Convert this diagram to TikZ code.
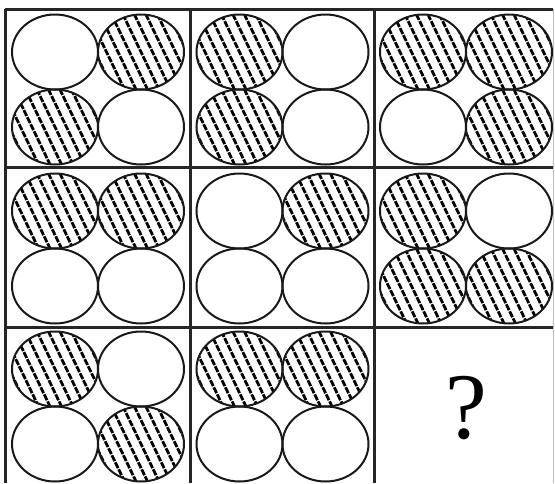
\documentclass[tikz,border=0pt]{standalone}
\usepackage{fontspec}
\newfontfamily\qfont{Liberation Serif}
\begin{document}
\begin{tikzpicture}[x=1pt,y=-1pt,
  gridline/.style={line width=3pt, black!85},
  edgeline/.style={line width=0.8pt, black!25},
  disc/.style={line width=2pt, black!90},
  hatchline/.style={line width=2.8pt, black, dash pattern=on 6.5pt off 1.3pt}]
\useasboundingbox (0,0) rectangle (555,483);
\fill[white] (0,0) rectangle (555,483);
% ellipse: #1 cx, #2 cy, #3 hatched (1) or not (0)
\newcommand\mydisc[3]{%
  \ifnum#3=1
    \begin{scope}
      \clip (#1,#2) ellipse [x radius=43, y radius=37.5];
      \foreach \k in {-7,...,7}{
        \draw[hatchline] ({#1+\k*11.5-25},{#2-52}) -- ({#1+\k*11.5+25},{#2+52});
      }
    \end{scope}
  \fi
  \draw[disc] (#1,#2) ellipse [x radius=43, y radius=37.5];
}
% cell: #1,#2 = left and right centre x; #3,#4 = top and bottom centre y; #5..#8 = TL TR BL BR
\newcommand\mycell[8]{%
  \mydisc{#1}{#3}{#5}\mydisc{#2}{#3}{#6}\mydisc{#1}{#4}{#7}\mydisc{#2}{#4}{#8}}
% row 1
\mycell{55}{141}{52}{127}{0}{1}{1}{0}
\mycell{239.5}{325.5}{52}{127}{1}{0}{1}{0}
\mycell{423}{509}{52}{127}{1}{1}{0}{1}
% row 2
\mycell{55}{141}{211}{286}{1}{1}{0}{0}
\mycell{239.5}{325.5}{211}{286}{0}{1}{0}{0}
\mycell{423}{509}{211}{286}{1}{0}{1}{1}
% row 3
\mycell{55}{141}{369}{444}{1}{0}{0}{1}
\mycell{239.5}{325.5}{369}{444}{1}{1}{0}{0}
\node (q) at (466,408) {\qfont\fontsize{94}{94}\selectfont ?};
% grid
\draw[edgeline] (553.5,9) -- (553.5,483);
\draw[gridline] (5,9) -- (553,9);
\draw[gridline] (5,167) -- (553,167);
\draw[gridline] (5,327) -- (553,327);
\draw[gridline] (5,9) -- (5,483);
\draw[gridline] (190,9) -- (190,483);
\draw[gridline] (374,9) -- (374,483);
\end{tikzpicture}
\end{document}
